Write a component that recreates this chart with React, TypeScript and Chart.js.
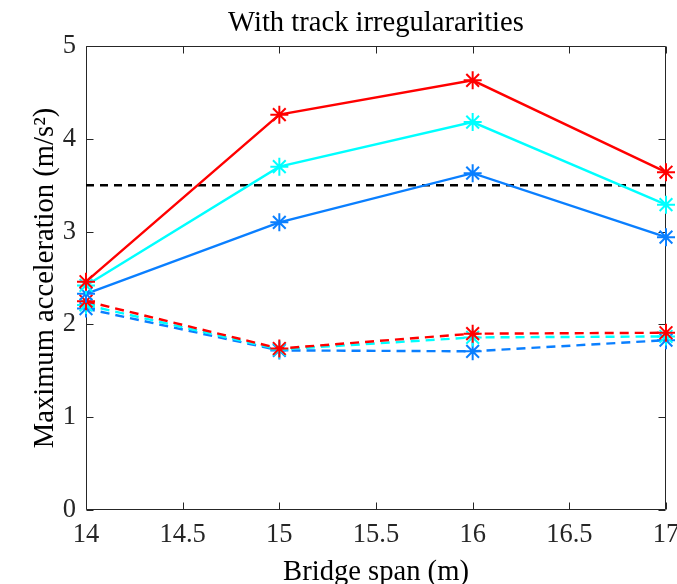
import React, { useEffect, useRef } from "react";
import { Chart, registerables } from "chart.js";

Chart.register(...registerables);

// Data
const spans = [14, 15, 16, 17];
const redSolid = [2.46, 4.26, 4.63, 3.64];
const cyanSolid = [2.42, 3.7, 4.18, 3.29];
const blueSolid = [2.33, 3.1, 3.63, 2.94];
const redDashed = [2.25, 1.74, 1.9, 1.91];
const cyanDashed = [2.21, 1.73, 1.86, 1.87];
const blueDashed = [2.17, 1.72, 1.71, 1.83];
const limitSpans = [14, 17];
const limitValues = [3.5, 3.5];

const titleText = "With track irregulararities";
const xTitle = "Bridge span (m)";
const yTitle = "Maximum acceleration (m/s²)";

const RED = "#ff0000";
const CYAN = "#00ffff";
const BLUE = "#0a7fff";
const AXIS = "#262626";
const FONT = "'Liberation Serif', 'Times New Roman', serif";
const TICK_SIZE = 26.5;
const LABEL_SIZE = 28.6;

const toPts = (xs: number[], ys: number[]) => xs.map((x, i) => ({ x, y: ys[i] }));

const boxPlugin = {
  id: "matlabBox",
  beforeDatasetsDraw(chart: any) {
    const { ctx, chartArea: a, scales } = chart;
    const L = Math.round(a.left) + 0.5;
    const R = Math.round(a.right) - 0.5;
    const T = Math.round(a.top) + 0.5;
    const B = Math.round(a.bottom) - 0.5;
    ctx.save();
    ctx.strokeStyle = AXIS;
    ctx.lineWidth = 1;
    ctx.beginPath();
    ctx.rect(L, T, R - L, B - T);
    const tl = 7;
    scales.x.ticks.forEach((t: any) => {
      const px = Math.round(scales.x.getPixelForValue(t.value)) + 0.5;
      ctx.moveTo(px, B);
      ctx.lineTo(px, B - tl);
      ctx.moveTo(px, T);
      ctx.lineTo(px, T + tl);
    });
    scales.y.ticks.forEach((t: any) => {
      const py = Math.round(scales.y.getPixelForValue(t.value)) + 0.5;
      ctx.moveTo(L, py);
      ctx.lineTo(L + tl, py);
      ctx.moveTo(R, py);
      ctx.lineTo(R - tl, py);
    });
    ctx.stroke();
    ctx.restore();
  },
};

export default function App() {
  const ref = useRef<HTMLCanvasElement | null>(null);

  useEffect(() => {
    if (!ref.current) return;
    const solid = (label: string, color: string, ys: number[]) => ({
      label,
      data: toPts(spans, ys),
      borderColor: color,
      backgroundColor: color,
      borderWidth: 2.4,
      pointStyle: "star",
      pointRadius: 9,
      pointBorderWidth: 2,
      pointBorderColor: color,
      pointBackgroundColor: color,
      clip: false,
      tension: 0,
    });
    const dashed = (label: string, color: string, ys: number[]) => ({
      ...solid(label, color, ys),
      borderDash: [9, 6],
    });
    const chart = new Chart(ref.current, {
      type: "line",
      data: {
        datasets: [
          solid("Red solid", RED, redSolid),
          solid("Cyan solid", CYAN, cyanSolid),
          solid("Blue solid", BLUE, blueSolid),
          dashed("Red dashed", RED, redDashed),
          dashed("Cyan dashed", CYAN, cyanDashed),
          dashed("Blue dashed", BLUE, blueDashed),
          {
            label: "Limit",
            data: toPts(limitSpans, limitValues),
            borderColor: "#000000",
            backgroundColor: "#000000",
            borderWidth: 2.5,
            borderDash: [8, 6],
            pointRadius: 0,
            clip: false,
          },
        ] as any,
      },
      options: {
        animation: false,
        responsive: false,
        maintainAspectRatio: false,
        layout: { padding: { left: 0, right: 10, top: 0, bottom: 0 } },
        plugins: {
          legend: { display: false },
          tooltip: { enabled: false },
          title: {
            display: true,
            fullSize: false,
            text: titleText,
            color: "#000000",
            font: { family: FONT, size: LABEL_SIZE, weight: "normal", lineHeight: 1.2 },
            padding: { top: 6.5, bottom: 46 - 6.5 - LABEL_SIZE * 1.2 },
          },
        },
        scales: {
          x: {
            type: "linear",
            min: 14,
            max: 17,
            ticks: {
              stepSize: 0.5,
              color: AXIS,
              font: { family: FONT, size: TICK_SIZE },
              padding: 9,
              maxRotation: 0,
              autoSkip: false,
              callback: (v: any) => `${Number(v)}`,
            },
            grid: { display: false, drawTicks: false },
            border: { display: false },
            title: {
              display: true,
              text: xTitle,
              color: "#000000",
              font: { family: FONT, size: LABEL_SIZE, lineHeight: 0.8 },
              padding: { top: 0, bottom: 0 },
            },
            afterFit(scale: any) {
              scale.height = 74;
              scale.paddingLeft = 0;
              scale.paddingRight = 0;
            },
          },
          y: {
            type: "linear",
            min: 0,
            max: 5,
            ticks: {
              stepSize: 1,
              color: AXIS,
              font: { family: FONT, size: TICK_SIZE },
              padding: 10,
              callback: (v: any) => `${Number(v)}`,
            },
            grid: { display: false, drawTicks: false },
            border: { display: false },
            title: {
              display: true,
              text: yTitle,
              color: "#000000",
              font: { family: FONT, size: LABEL_SIZE, lineHeight: 1 },
              padding: { top: 31, bottom: 0 },
            },
            afterFit(scale: any) {
              scale.width = 86;
              scale.paddingTop = 0;
              scale.paddingBottom = 0;
            },
          },
        },
      } as any,
      plugins: [boxPlugin],
    });
    return () => chart.destroy();
  }, []);

  return (
    <div style={{ position: "absolute", left: 0, top: 0, width: 677, height: 584, background: "#ffffff" }}>
      <canvas ref={ref} width={677} height={584} style={{ display: "block" }} />
    </div>
  );
}
